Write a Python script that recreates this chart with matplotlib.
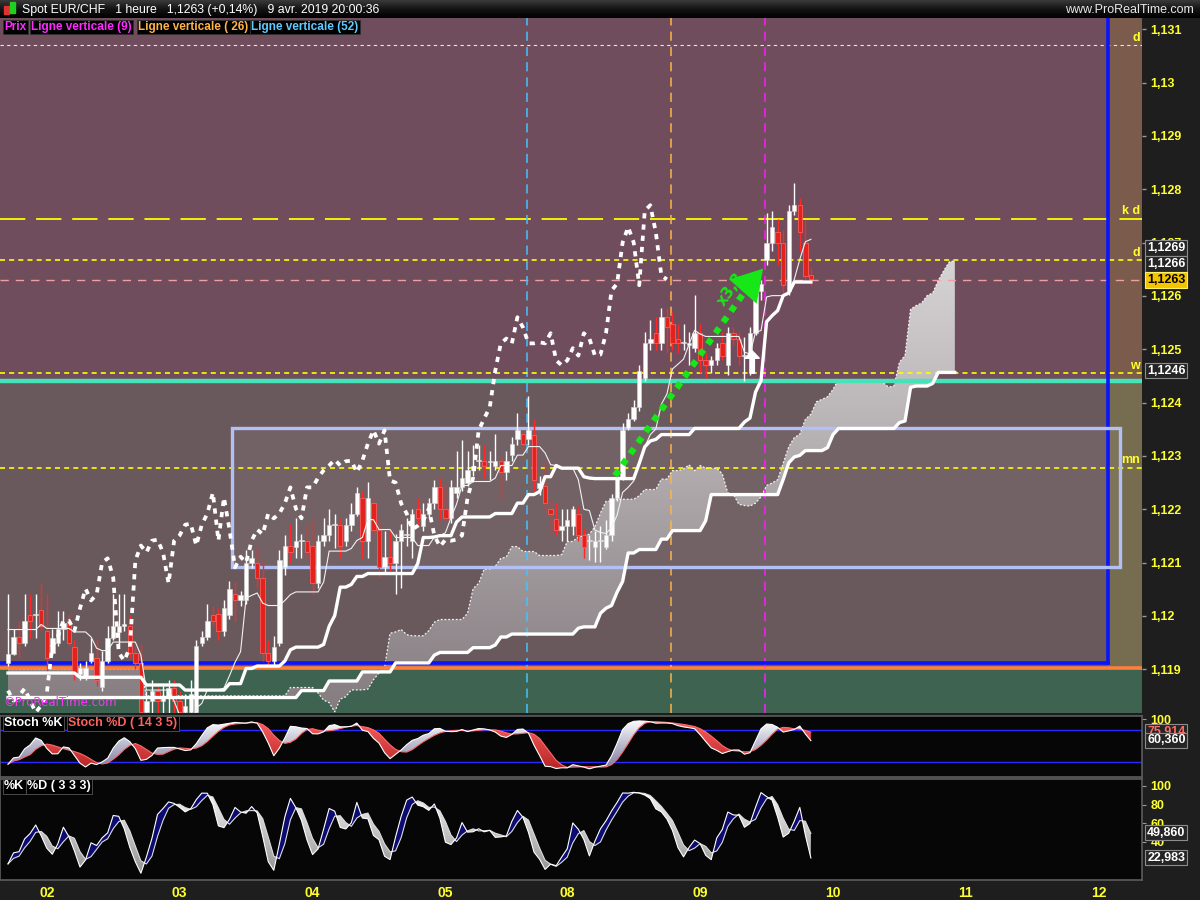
import numpy as np
import pandas as pd
import matplotlib
matplotlib.use('Agg')
import matplotlib.pyplot as plt
from matplotlib import patches
from matplotlib.path import Path
from matplotlib.colors import LinearSegmentedColormap

# hourly EUR/CHF candles, 1 Apr 17:00 -> 9 Apr 20:00
opens = [1.11912, 1.11929, 1.11961, 1.11950, 1.12001, 1.12001, 1.12012, 1.11972, 1.11931, 1.11950,
         1.11976, 1.11991, 1.11941, 1.11892, 1.11888, 1.11916, 1.11922, 1.11866, 1.11916, 1.11959,
         1.11969, 1.11982, 1.11982, 1.11931, 1.11911, 1.11819, 1.11841, 1.11860, 1.11841, 1.11850,
         1.11864, 1.11841, 1.11819, 1.11819, 1.11819, 1.11950, 1.11961, 1.12001, 1.12004, 1.11972,
         1.12001, 1.12042, 1.12029, 1.12029, 1.12100, 1.12100, 1.12072, 1.11931, 1.11916, 1.11950,
         1.12091, 1.12132, 1.12130, 1.12141, 1.12141, 1.12132, 1.12061, 1.12141, 1.12151, 1.12171,
         1.12171, 1.12141, 1.12171, 1.12192, 1.12222, 1.12141, 1.12211, 1.12162, 1.12091, 1.12111,
         1.12100, 1.12141, 1.12151, 1.12141, 1.12201, 1.12169, 1.12192, 1.12211, 1.12241, 1.12201,
         1.12183, 1.12231, 1.12241, 1.12250, 1.12273, 1.12291, 1.12291, 1.12288, 1.12282, 1.12291,
         1.12269, 1.12301, 1.12331, 1.12342, 1.12331, 1.12340, 1.12239, 1.12244, 1.12201, 1.12181,
         1.12162, 1.12169, 1.12169, 1.12192, 1.12151, 1.12141, 1.12130, 1.12141, 1.12130, 1.12151,
         1.12222, 1.12259, 1.12353, 1.12370, 1.12391, 1.12447, 1.12511, 1.12530, 1.12511, 1.12560,
         1.12548, 1.12520, 1.12511, 1.12507, 1.12502, 1.12530, 1.12479, 1.12470, 1.12479, 1.12511,
         1.12470, 1.12530, 1.12520, 1.12488, 1.12488, 1.12530, 1.12610, 1.12667, 1.12700, 1.12719,
         1.12700, 1.12610, 1.12760, 1.12770, 1.12700, 1.12640]
highs = [1.12042, 1.11976, 1.11991, 1.12042, 1.12042, 1.12042, 1.12061, 1.12042, 1.11976, 1.12010,
         1.12010, 1.12001, 1.11954, 1.11912, 1.11916, 1.11959, 1.11954, 1.11935, 1.11982, 1.12042,
         1.12042, 1.12042, 1.12001, 1.11944, 1.11948, 1.11860, 1.11879, 1.11869, 1.11869, 1.11879,
         1.11879, 1.11860, 1.11854, 1.11879, 1.11954, 1.11972, 1.12023, 1.12019, 1.12014, 1.12029,
         1.12066, 1.12066, 1.12047, 1.12123, 1.12123, 1.12132, 1.12104, 1.11954, 1.11963, 1.12123,
         1.12151, 1.12173, 1.12183, 1.12154, 1.12173, 1.12183, 1.12151, 1.12183, 1.12201, 1.12192,
         1.12183, 1.12183, 1.12211, 1.12241, 1.12235, 1.12252, 1.12222, 1.12179, 1.12160, 1.12160,
         1.12154, 1.12173, 1.12183, 1.12201, 1.12222, 1.12211, 1.12222, 1.12254, 1.12259, 1.12250,
         1.12254, 1.12310, 1.12329, 1.12310, 1.12320, 1.12320, 1.12320, 1.12310, 1.12342, 1.12301,
         1.12310, 1.12335, 1.12381, 1.12348, 1.12413, 1.12370, 1.12263, 1.12291, 1.12220, 1.12211,
         1.12201, 1.12201, 1.12207, 1.12207, 1.12164, 1.12151, 1.12160, 1.12169, 1.12179, 1.12229,
         1.12276, 1.12361, 1.12380, 1.12404, 1.12470, 1.12532, 1.12554, 1.12560, 1.12578, 1.12578,
         1.12569, 1.12548, 1.12548, 1.12532, 1.12601, 1.12548, 1.12492, 1.12488, 1.12511, 1.12532,
         1.12541, 1.12541, 1.12532, 1.12522, 1.12541, 1.12623, 1.12629, 1.12755, 1.12760, 1.12745,
         1.12723, 1.12770, 1.12811, 1.12783, 1.12742, 1.12652]
# the lows of 2 Apr run below the visible price range (they drive the Kijun)
lows = [1.11907, 1.11926, 1.11922, 1.11944, 1.11959, 1.11959, 1.11972, 1.11892, 1.11926, 1.11944,
        1.11954, 1.11944, 1.11879, 1.11879, 1.11879, 1.11912, 1.11869, 1.11860, 1.11912, 1.11954,
        1.11944, 1.11972, 1.11922, 1.11901, 1.11811, 1.11680, 1.11740, 1.11750, 1.11770, 1.11750,
        1.11720, 1.11700, 1.11710, 1.11760, 1.11800, 1.11944, 1.11954, 1.11982, 1.11954, 1.11963,
        1.11995, 1.11991, 1.12019, 1.12023, 1.12089, 1.12053, 1.11916, 1.11907, 1.11907, 1.11944,
        1.12076, 1.12100, 1.12109, 1.12109, 1.12109, 1.12042, 1.12053, 1.12132, 1.12141, 1.12128,
        1.12109, 1.12132, 1.12160, 1.12188, 1.12109, 1.12109, 1.12151, 1.12072, 1.12081, 1.12081,
        1.12042, 1.12053, 1.12132, 1.12109, 1.12169, 1.12160, 1.12183, 1.12201, 1.12179, 1.12179,
        1.12175, 1.12222, 1.12235, 1.12244, 1.12263, 1.12273, 1.12259, 1.12254, 1.12273, 1.12222,
        1.12254, 1.12291, 1.12320, 1.12304, 1.12320, 1.12235, 1.12226, 1.12198, 1.12154, 1.12151,
        1.12141, 1.12141, 1.12151, 1.12141, 1.12109, 1.12104, 1.12102, 1.12102, 1.12126, 1.12141,
        1.12216, 1.12254, 1.12348, 1.12366, 1.12385, 1.12441, 1.12498, 1.12498, 1.12498, 1.12492,
        1.12498, 1.12492, 1.12498, 1.12470, 1.12494, 1.12456, 1.12447, 1.12456, 1.12470, 1.12479,
        1.12451, 1.12507, 1.12470, 1.12441, 1.12451, 1.12526, 1.12592, 1.12657, 1.12685, 1.12657,
        1.12601, 1.12601, 1.12751, 1.12685, 1.12629, 1.12620]
closes = [1.11929, 1.11961, 1.11950, 1.11991, 1.11991, 1.12002, 1.11982, 1.11922, 1.11959, 1.11976,
          1.11986, 1.11950, 1.11892, 1.11903, 1.11903, 1.11931, 1.11879, 1.11916, 1.11959, 1.11982,
          1.11982, 1.11984, 1.11931, 1.11911, 1.11819, 1.11841, 1.11860, 1.11841, 1.11850, 1.11864,
          1.11841, 1.11819, 1.11832, 1.11854, 1.11944, 1.11961, 1.11991, 1.11991, 1.11972, 1.12014,
          1.12051, 1.12029, 1.12040, 1.12100, 1.12108, 1.12072, 1.11931, 1.11916, 1.11941, 1.12104,
          1.12132, 1.12119, 1.12141, 1.12143, 1.12119, 1.12061, 1.12141, 1.12151, 1.12171, 1.12173,
          1.12132, 1.12171, 1.12192, 1.12231, 1.12141, 1.12222, 1.12162, 1.12091, 1.12111, 1.12100,
          1.12141, 1.12162, 1.12153, 1.12192, 1.12183, 1.12192, 1.12211, 1.12241, 1.12201, 1.12183,
          1.12241, 1.12241, 1.12259, 1.12273, 1.12282, 1.12293, 1.12282, 1.12290, 1.12291, 1.12269,
          1.12291, 1.12323, 1.12348, 1.12323, 1.12348, 1.12254, 1.12250, 1.12211, 1.12192, 1.12162,
          1.12169, 1.12179, 1.12201, 1.12151, 1.12130, 1.12143, 1.12141, 1.12143, 1.12151, 1.12222,
          1.12259, 1.12348, 1.12370, 1.12391, 1.12460, 1.12511, 1.12520, 1.12511, 1.12560, 1.12541,
          1.12511, 1.12511, 1.12513, 1.12511, 1.12530, 1.12479, 1.12470, 1.12479, 1.12502, 1.12488,
          1.12530, 1.12520, 1.12488, 1.12490, 1.12530, 1.12610, 1.12623, 1.12700, 1.12729, 1.12700,
          1.12620, 1.12760, 1.12770, 1.12719, 1.12638, 1.12631]

kijun_left = [1.11893] * 13 + [1.11885] * 12                      # bars 0-24
span_a_left = [1.11900] * 25 + [1.11850] * 26                     # positions 0-50
span_b_left = ([1.11847] * 53 + [1.11860] * 5 + [1.11878] * 6
               + [1.11895] * 6 + [1.11912] * 7)                   # positions 0-76

day_ticks = [7, 31, 55, 79, 101, 125, 149, 173, 197]
day_labels = ['02', '03', '04', '05', '08', '09', '10', '11', '12']

# "Ligne verticale" n bars back from the last bar
vline_back = [9, 26, 52]
vline_colors = ['#ff1aff', '#ffb347', '#45c3ff']

level_top_d = 1.13070
level_kd = 1.12745
level_d = 1.12667
level_last = 1.12630
level_w = 1.12455
level_support = 1.12440
level_mn = 1.12278
level_blue = 1.11912
level_orange = 1.11903

range_box = (40.45, 200.8, 1.12091, 1.12352)
blue_x = 198.66

arrow_from = (109.6, 1.12263)
arrow_to = (136.7, 1.12655)

price_boxes = [1.1269, 1.1266, 1.1246]
last_price = 1.1263
slow_boxes = [(75.914, '#ff6a6a'), (60.360, 'white')]
fast_boxes = [49.860, 22.983]

XL = (-1.445, 204.8)
YL = (1.11818, 1.13121)
YELLOW = '#ffff2e'
FONT = 'Liberation Sans'


def fx(px):
    return px / 1200


def fy(py):
    return 1 - py / 900


def price_fmt(v, nd=3):
    s = f'{v:.{nd}f}'.rstrip('0').rstrip('.')
    return s.replace('.', ',')


def gradient_clip(ax, coll, top_col, bot_col, y0, y1, z):
    paths = coll.get_paths()
    if len(paths) == 0:
        return
    clip = Path.make_compound_path(*paths)
    cmap = LinearSegmentedColormap.from_list('g', [bot_col, top_col])
    grad = np.linspace(0, 1, 256).reshape(-1, 1)
    im = ax.imshow(grad, extent=[XL[0], XL[1], y0, y1], origin='lower',
                   aspect='auto', cmap=cmap, zorder=z, interpolation='bilinear')
    im.set_clip_path(clip, ax.transData)


def value_box(ax, y, text, col, fc='#252525', ec='#8c8c8c', z=10):
    ax.text(1.0045, y, text, transform=ax.get_yaxis_transform(), color=col, fontsize=9,
            fontweight='bold', family=FONT, va='center', ha='left', zorder=z, clip_on=False,
            bbox=dict(boxstyle='square,pad=0.14', fc=fc, ec=ec, lw=0.8))


o = np.array(opens)
c = np.array(closes)
h = np.maximum(np.array(highs), np.maximum(o, c))
l = np.minimum(np.array(lows), np.minimum(o, c))
x = np.arange(len(c))
last = len(c) - 1

# Ichimoku 9 / 26 / 52
hs, ls_, cs = pd.Series(h), pd.Series(l), pd.Series(c)
tenkan = ((hs.rolling(9, min_periods=1).max() + ls_.rolling(9, min_periods=1).min()) / 2).values
kijun = ((hs.rolling(26, min_periods=1).max() + ls_.rolling(26, min_periods=1).min()) / 2).values
kijun[:len(kijun_left)] = kijun_left
span_a_calc = (tenkan + kijun) / 2
span_b_calc = ((hs.rolling(52, min_periods=1).max() + ls_.rolling(52, min_periods=1).min()) / 2).values
span_a = np.concatenate([span_a_left, span_a_calc[len(span_a_left) - 26:]])
span_b = np.concatenate([span_b_left, span_b_calc[len(span_b_left) - 26:]])
xs = np.arange(len(span_a))


def stoch(n, sk, sd):
    ll = ls_.rolling(n, min_periods=1).min()
    hh = hs.rolling(n, min_periods=1).max()
    raw = 100 * (cs - ll) / (hh - ll)
    k = raw.rolling(sk, min_periods=1).mean()
    d = k.rolling(sd, min_periods=1).mean()
    return k.values, d.values


k_slow, d_slow = stoch(14, 3, 5)
k_fast, d_fast = stoch(3, 3, 3)

fig = plt.figure(figsize=(12, 9), dpi=100, facecolor='#1e1e1e')
ax = fig.add_axes([0, fy(713), fx(1142), 695 / 900])
ax2 = fig.add_axes([0, fy(777), fx(1142), 61 / 900])
ax3 = fig.add_axes([0, fy(880), fx(1142), 101 / 900])

# ---- main panel background zones
ax.axhspan(level_support, 2, color='#6f4d5c', zorder=0)
ax.axhspan(level_orange, level_support, color='#6a595c', zorder=0)
ax.axhspan(0, level_orange, color='#3e6350', zorder=0)
ax.add_patch(patches.Rectangle((blue_x, level_support), 20, 1, color='#7b5b4c', zorder=0.2))
ax.add_patch(patches.Rectangle((blue_x, level_orange), 20, level_support - level_orange,
                               color='#766c50', zorder=0.2))
bx0, bx1, by0, by1 = range_box
ax.add_patch(patches.Rectangle((bx0, by0), bx1 - bx0, by1 - by0, fc='#ffffff', alpha=0.06,
                               ec='none', zorder=0.3))

# ---- cloud
cloud = ax.fill_between(xs, span_a, span_b, color='none', lw=0)
gradient_clip(ax, cloud, '#d8d5d6', '#857c80', 1.1182, 1.1268, 1.5)
ax.plot(xs, span_a, color='#f4f4f4', lw=0.9, ls=(0, (1.5, 1.5)), zorder=2)

# ---- horizontal levels
ax.axhline(level_top_d, color='#e8e8e8', lw=0.8, ls=(0, (3, 3)), zorder=2)
ax.axhline(level_kd, color='#ffff00', lw=1.3, ls=(0, (14, 6)), zorder=2)
ax.axhline(level_d, color='#ffff00', lw=1.2, ls=(0, (3, 2.5)), zorder=2)
ax.axhline(level_last, color='#f0a0a0', lw=1, ls=(0, (6, 5)), zorder=2)
ax.axhline(level_support, color='#44e3b8', lw=3.2, zorder=2)
ax.axhline(level_w, color='#ffff00', lw=1.2, ls=(0, (3, 2.5)), zorder=2.1)
ax.axhline(level_mn, color='#ffff00', lw=1.2, ls=(0, (3, 2.5)), zorder=2)
ax.axhline(level_orange, color='#ff7f3a', lw=2.6, zorder=2)
ax.plot([XL[0], blue_x], [level_blue, level_blue], color='#0a14ff', lw=2.6, zorder=2.2)
ax.plot([blue_x, blue_x], [level_blue, YL[1]], color='#0a14ff', lw=2.6, zorder=2.2)
ax.add_patch(patches.Rectangle((bx0, by0), bx1 - bx0, by1 - by0, fill=False,
                               ec='#b3c0f5', lw=2.4, zorder=2.3))

for back, col in zip(vline_back, vline_colors):
    ax.axvline(last - back + 0.7, color=col, lw=1.1, ls=(0, (6, 4)), zorder=2)

for yv, txt in [(level_top_d + 0.00003, 'd'), (level_kd + 0.00003, 'k d'),
                (level_d + 0.00003, 'd'), (level_w + 0.00003, 'w'),
                (level_mn + 0.00003, 'mn')]:
    ax.text(XL[1] - 0.4, yv, txt, color=YELLOW, fontsize=9, fontweight='bold',
            ha='right', va='bottom', family=FONT, zorder=7)

# ---- candles
up = c >= o
dn = ~up
ax.vlines(x[up], l[up], h[up], color='white', lw=1, zorder=4)
ax.vlines(x[dn], l[dn], h[dn], color='#ff2626', lw=1, zorder=4)
body = np.maximum(np.abs(c - o), 0.00002)
bot = np.minimum(o, c)
ax.bar(x[up], body[up], bottom=bot[up], width=0.8, color='white', ec='#d8d8d8', lw=0.4, zorder=4.5)
ax.bar(x[dn], body[dn], bottom=bot[dn], width=0.8, color='#e3221c', ec='#ff5a5a', lw=0.6, zorder=4.5)

# ---- ichimoku lines
ax.plot(x, tenkan, color='#f2f2f2', lw=0.8, zorder=5)
ax.plot(x, kijun, color='white', lw=2.4, zorder=5, solid_joinstyle='round')
ax.plot(xs, span_b, color='white', lw=2.4, zorder=5, solid_joinstyle='round')
ax.plot(x[26:] - 26, c[26:], color='white', lw=2.7, ls=(0, (1.4, 1.6)), zorder=5)

# ---- projection arrow
ax.plot([arrow_from[0], arrow_to[0] - 1.8], [arrow_from[1], arrow_to[1] - 0.0002],
        color='#17e617', lw=4.6, ls=(0, (1.0, 1.1)), solid_capstyle='butt', zorder=6)
ax.add_patch(patches.FancyArrowPatch((arrow_to[0] - 3.4, arrow_to[1] - 0.0004), arrow_to,
                                     arrowstyle='-|>,head_length=1.0,head_width=0.6',
                                     mutation_scale=22, color='#17e617', lw=0, zorder=6))
ax.text(130.5, 1.12612, 'x3,3', color='#17e617', fontsize=11, fontweight='bold', rotation=55,
        ha='center', va='center', zorder=6.5)
ax.add_patch(patches.FancyArrow(134.4, 1.12455, 0, 0.00028, width=0.8, head_width=2.6,
                                head_length=0.00014, color='white', zorder=6))

ax.text(0.003, 0.006, '\u00a9ProRealTime.com', transform=ax.transAxes, color='#ff33ff',
        fontsize=8.5, ha='left', va='bottom', zorder=7)

ax.set_xlim(*XL)
ax.set_ylim(*YL)
ax.set_xticks([])
yt = np.round(np.arange(1.119, 1.1311, 0.001), 3)
ax.yaxis.tick_right()
ax.set_yticks(yt)
ax.set_yticklabels([price_fmt(v) for v in yt])
ax.tick_params(axis='y', colors='#9a9a9a', labelcolor=YELLOW, length=3, width=1, pad=3,
               labelsize=9)
for t in ax.get_yticklabels():
    t.set_fontweight('bold')
    t.set_family(FONT)
for s in ax.spines.values():
    s.set_visible(False)

for v in price_boxes:
    value_box(ax, v, price_fmt(v, 4), 'white')
value_box(ax, last_price, price_fmt(last_price, 4), 'black', fc='#f5c400', ec='#fff060', z=11)

# ---- stochastic 14 3 5
ax2.set_facecolor('#060606')
ax2.axhline(80, color='#2a2aff', lw=1, zorder=1)
ax2.axhline(20, color='#2a2aff', lw=1, zorder=1)
f_up = ax2.fill_between(x, k_slow, d_slow, where=k_slow >= d_slow, interpolate=True,
                        color='none', lw=0)
gradient_clip(ax2, f_up, '#ffffff', '#6e6e98', 0, 100, 2)
f_dn = ax2.fill_between(x, k_slow, d_slow, where=k_slow < d_slow, interpolate=True,
                        color='none', lw=0)
gradient_clip(ax2, f_dn, '#ff6060', '#b02020', 0, 100, 2)
ax2.plot(x, d_slow, color='#ff6a6a', lw=0.8, zorder=3)
ax2.plot(x, k_slow, color='white', lw=0.8, zorder=3)
ax2.set_xlim(*XL)
ax2.set_ylim(-7.4, 105.6)
ax2.set_xticks([])
ax2.yaxis.tick_right()
ax2.set_yticks([100])
ax2.set_yticklabels(['100'])
for v, col in slow_boxes:
    value_box(ax2, v, f'{v:.3f}'.replace('.', ','), col)

# ---- stochastic 3 3 3
ax3.set_facecolor('#060606')
ax3.fill_between(x, k_fast, d_fast, where=k_fast >= d_fast, interpolate=True,
                 color='#0b0b72', lw=0, zorder=2)
g_dn = ax3.fill_between(x, k_fast, d_fast, where=k_fast < d_fast, interpolate=True,
                        color='none', lw=0)
gradient_clip(ax3, g_dn, '#ffffff', '#8a8a8a', 0, 100, 2)
ax3.plot(x, d_fast, color='#dcdcdc', lw=0.8, zorder=3)
ax3.plot(x, k_fast, color='white', lw=0.8, zorder=3)
ax3.set_xlim(*XL)
ax3.set_ylim(-1, 107.4)
ax3.yaxis.tick_right()
ax3.set_yticks([40, 60, 80, 100])
ax3.set_yticklabels(['40', '60', '80', '100'])
ax3.set_xticks(day_ticks)
ax3.set_xticklabels(day_labels)
for v in fast_boxes:
    value_box(ax3, v, f'{v:.3f}'.replace('.', ','), 'white')

for a in (ax2, ax3):
    a.tick_params(axis='y', colors='#9a9a9a', labelcolor=YELLOW, length=3, pad=3, labelsize=9)
    a.tick_params(axis='x', colors='#1e1e1e', labelcolor=YELLOW, length=0, pad=4, labelsize=10)
    for t in a.get_yticklabels() + a.get_xticklabels():
        t.set_fontweight('bold')
        t.set_family(FONT)
    for s in a.spines.values():
        s.set_color('#5c5c5c')
        s.set_linewidth(1.2)

# ---- header bar
hax = fig.add_axes([0, fy(18), 1, 18 / 900])
hax.imshow(np.linspace(0, 1, 64).reshape(-1, 1), aspect='auto', origin='lower',
           cmap=LinearSegmentedColormap.from_list('hd', ['#000000', '#141414', '#3a3a3a']),
           extent=[0, 1, 0, 1])
hax.add_patch(patches.Rectangle((0.0035, 0.2), 0.004, 0.45, color='#e03030'))
hax.add_patch(patches.Rectangle((0.0085, 0.3), 0.004, 0.6, color='#20d020'))
hax.set_xlim(0, 1)
hax.set_ylim(0, 1)
hax.axis('off')
fig.text(fx(22), fy(10), 'Spot EUR/CHF   1 heure   1,1263 (+0,14%)   9 avr. 2019 20:00:36',
         color='white', fontsize=8.8, family=FONT, va='center', ha='left')
fig.text(fx(1194), fy(10), 'www.ProRealTime.com', color='#e8e8e8', fontsize=9,
         family=FONT, va='center', ha='right')

legend_items = [(2, 'Prix', '#ff2aff'), (29, 'Ligne verticale (9)', '#ff2aff'),
                (136, 'Ligne verticale ( 26)', '#ffb347'), (249, 'Ligne verticale (52)', '#5fcbff')]
for px, txt, col in legend_items:
    fig.text(fx(px + 2), fy(27), txt, color=col, fontsize=8.5, fontweight='bold',
             family=FONT, va='center', ha='left', zorder=20,
             bbox=dict(boxstyle='square,pad=0.12', fc='#000000', ec='#303030', lw=0.6))

for px, py, txt, col in [(4, 723, 'Stoch %K', 'white'), (68, 723, 'Stoch %D ( 14 3 5)', '#ff6060'),
                         (4, 786, '%K', 'white'), (27, 786, '%D ( 3 3 3)', 'white')]:
    fig.text(fx(px), fy(py), txt, color=col, fontsize=9, fontweight='bold',
             family=FONT, va='center', ha='left', zorder=20,
             bbox=dict(boxstyle='square,pad=0.12', fc='#000000', ec='#555555', lw=0.6))

fig.savefig('out.png', dpi=100, facecolor=fig.get_facecolor())
